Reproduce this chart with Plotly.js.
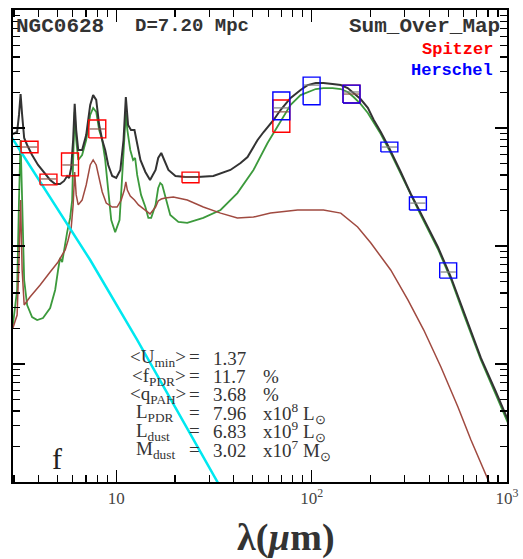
<!DOCTYPE html>
<html><head><meta charset="utf-8">
<script src="https://cdn.plot.ly/plotly-3.0.1.min.js"></script>
<style>html,body{margin:0;padding:0;background:#fff}</style>
</head><body><div id="chart" style="width:523px;height:559px"></div>
<script>
// ---- Total model (black) ----
const totalWave = [2.96,3.11,3.18,3.24,3.30,3.38,3.50,3.71,3.98,4.27,
  4.59,4.87,5.16,5.41,5.61,5.74,5.88,6.02,6.13,6.24,
  6.39,6.69,7.02,7.36,7.62,7.90,8.18,8.48,8.78,9.10,
  9.54,10.0,10.5,10.9,11.2,11.5,11.9,12.4,12.8,13.3,
  14.1,14.9,15.9,16.4,17.0,17.6,18.5,20.1,22.6,26.0,
  31.4,38.4,43.3,47.0,52.9,56.8,63.9,69.3,78.1,87.8,
  95.4,105,115,128,141,153,164,178,194,208,
  226,248,286,322,362,443,516,602,736,878,1012];
const totalFlux = [8.90e8,9.25e8,1.29e9,1.94e9,1.29e9,8.23e8,7.18e8,5.90e8,4.86e8,4.16e8,
  3.63e8,3.35e8,3.35e8,3.56e8,3.92e8,3.77e8,4.58e8,7.91e8,1.60e9,9.62e8,
  6.51e8,6.51e8,8.72e8,1.57e9,1.90e9,1.73e9,1.06e9,7.91e8,6.51e8,4.86e8,
  3.92e8,3.77e8,4.41e8,7.91e8,1.83e9,1.06e9,9.62e8,9.62e8,7.18e8,5.36e8,
  4.24e8,3.63e8,4.41e8,5.57e8,6.14e8,5.36e8,4.41e8,3.92e8,3.84e8,3.84e8,
  3.92e8,4.41e8,5.05e8,5.68e8,7.91e8,9.25e8,1.17e9,1.42e9,1.80e9,2.10e9,
  2.31e9,2.41e9,2.41e9,2.36e9,2.31e9,2.18e9,1.98e9,1.76e9,1.48e9,1.17e9,
  9.25e8,6.90e8,4.24e8,2.76e8,1.90e8,9.81e7,5.46e7,2.71e7,1.12e7,5.79e6,3.35e6];

// ---- Diffuse dust (green) ----
const diffuseWave = [2.96,3.11,3.18,3.24,3.30,3.38,3.50,3.71,3.94,4.22,
  4.59,4.87,5.04,5.16,5.29,5.41,5.61,5.81,5.95,6.02,
  6.13,6.24,6.39,6.69,7.02,7.36,7.62,7.90,8.18,8.48,
  8.78,9.10,9.43,9.88,10.4,10.7,11.0,11.2,11.4,11.8,
  12.2,12.5,12.8,13.4,14.1,14.6,15.1,15.9,16.4,16.8,
  17.2,17.8,18.9,20.8,23.1,27.9,34.2,41.7,50.4,59.5,
  66.9,78.1,87.8,95.4,105,115,128,141,153,164,
  178,194,208,226,248,286,322,362,443,516,602,736,878,1012];
const diffuseFlux = [2.14e7,4.24e7,2.45e8,7.91e8,2.45e8,5.15e7,3.16e7,2.50e7,2.36e7,2.45e7,
  2.98e7,4.24e7,6.26e7,7.91e7,7.32e7,9.25e7,1.31e8,1.73e8,2.45e8,5.36e8,
  1.37e9,7.91e8,5.36e8,5.90e8,7.91e8,1.29e9,1.48e9,1.37e9,9.62e8,7.91e8,
  5.36e8,2.98e8,1.66e8,1.31e8,1.66e8,3.63e8,7.91e8,1.34e9,9.62e8,6.51e8,
  5.36e8,5.57e8,4.00e8,2.71e8,2.14e8,1.73e8,1.73e8,2.23e8,3.10e8,3.42e8,
  3.29e8,2.60e8,1.83e8,1.60e8,1.57e8,1.73e8,2.02e8,2.81e8,4.41e8,7.46e8,
  1.02e9,1.57e9,1.90e9,2.02e9,2.14e9,2.18e9,2.18e9,2.14e9,2.02e9,1.83e9,
  1.60e9,1.34e9,1.12e9,8.90e8,6.64e8,4.08e8,2.65e8,1.83e8,9.43e7,5.25e7,2.60e7,1.08e7,5.46e6,3.16e6];

// ---- PDR dust (brown) ----
const pdrWave = [2.96,3.11,3.18,3.24,3.30,3.38,3.62,4.08,4.59,5.04,
  5.29,5.48,5.67,5.88,6.02,6.13,6.24,6.39,6.69,7.02,
  7.36,7.62,7.90,8.18,8.48,8.89,9.54,10.1,10.6,11.0,
  11.2,11.4,11.8,12.4,13.0,13.8,14.9,15.9,16.4,17.0,
  17.8,19.6,23.1,27.9,34.2,41.7,50.4,61.6,84.8,115,
  141,172,201,254,311,375,459,561,654,809,1048];
const pdrFlux = [2.02e7,2.60e7,7.61e7,2.45e8,6.26e7,3.16e7,3.70e7,4.67e7,6.02e7,7.32e7,
  8.39e7,9.25e7,1.12e8,1.42e8,2.23e8,4.24e8,2.71e8,2.23e8,2.45e8,3.29e8,
  4.86e8,5.36e8,4.86e8,3.63e8,2.87e8,2.31e8,2.14e8,2.14e8,2.45e8,2.98e8,
  3.49e8,2.98e8,2.65e8,2.45e8,2.23e8,2.06e8,1.87e8,2.14e8,2.41e8,2.50e8,
  2.55e8,2.60e8,2.45e8,2.14e8,1.90e8,1.73e8,1.76e8,1.90e8,2.02e8,2.02e8,
  1.90e8,1.45e8,1.06e8,6.26e7,3.49e7,1.94e7,9.43e6,4.32e6,2.27e6,1.00e6,3.23e5];

// ---- Stars (cyan) ----
const starWave = [2.93,4.59,7.36,12.8,33.0,43.3];
const starFlux = [8.23e8,2.55e8,7.61e7,1.60e7,1.0e6,4.5e5];

// ---- Photometry ----
const spitzerWave  = [3.6,4.5,5.8,8.0,24,70,160];
const spitzerFlux  = [6.90e8,3.66e8,4.91e8,9.81e8,3.81e8,1.26e9,1.94e9];
const spitzerErr   = [0.12,0.11,0.25,0.19,0.11,0.37,0.19];
const spitzerModel = [6.90e8,3.70e8,4.86e8,9.81e8,3.84e8,1.37e9,1.94e9];

const herschelWave  = [70,100,160,250,350,500];
const herschelFlux  = [1.54e9,2.06e9,1.94e9,6.90e8,2.29e8,6.20e7];
const herschelErr   = [0.31,0.31,0.19,0.10,0.135,0.16];
const herschelModel = [1.48e9,2.31e9,2.02e9,6.90e8,2.31e8,6.02e7];

// ---- Labels ----
const xTickVals = [10,100,1000];
const xTickText = ['10','10<sup>2</sup>','10<sup>3</sup>'];
const statLabels = ['&lt;U<sub>min</sub>&gt;','&lt;f<sub>PDR</sub>&gt;','&lt;q<sub>PAH</sub>&gt;','L<sub>PDR</sub>','L<sub>dust</sub>','M<sub>dust</sub>'];
const statValues = ['1.37','11.7','3.68','7.96','6.83','3.02'];
const statUnits  = ['','%','%','x10<sup>8</sup> L<sub>⊙</sub>','x10<sup>9</sup> L<sub>⊙</sub>','x10<sup>7</sup> M<sub>⊙</sub>'];

// box outlines (band width in log space fixed, height = error)
const BOXW = 1.105;
function boxPath(wave, flux, err){
  const xs=[], ys=[];
  for(let i=0;i<wave.length;i++){
    const x0=wave[i]/BOXW, x1=wave[i]*BOXW, y0=flux[i]/(1+err[i]), y1=flux[i]*(1+err[i]);
    xs.push(x0,x1,x1,x0,x0,null); ys.push(y0,y0,y1,y1,y0,null);
  }
  return {x:xs,y:ys};
}
const sBox = boxPath(spitzerWave, spitzerFlux, spitzerErr);
const hBox = boxPath(herschelWave, herschelFlux, herschelErr);

const traces = [
  {x:diffuseWave, y:diffuseFlux, mode:'lines', line:{color:'#3c9a3c', width:1.8}, hoverinfo:'skip'},
  {x:pdrWave, y:pdrFlux, mode:'lines', line:{color:'#a04a40', width:1.5}, hoverinfo:'skip'},
  {x:totalWave, y:totalFlux, mode:'lines', line:{color:'#333333', width:2}, hoverinfo:'skip'},
  {x:starWave, y:starFlux, mode:'lines', line:{color:'#00e8f0', width:2.5}, hoverinfo:'skip'},
  {x:sBox.x, y:sBox.y, mode:'lines', line:{color:'#ff0000', width:1.4}, connectgaps:false, hoverinfo:'skip'},
  {x:spitzerWave, y:spitzerModel, mode:'markers', marker:{symbol:'line-ew-open', size:11, line:{color:'#ff0000', width:1.2}}, hoverinfo:'skip'},
  {x:hBox.x, y:hBox.y, mode:'lines', line:{color:'#0000ff', width:1.4}, connectgaps:false, hoverinfo:'skip'},
  {x:herschelWave, y:herschelModel, mode:'markers', marker:{symbol:'line-ew-open', size:11, line:{color:'#0000ff', width:1.2}}, hoverinfo:'skip'}
];

// pixel -> paper helpers for annotations
const L=13, R=507, T=10, B=482;
const px = v => (v-L)/(R-L);
const py = v => (B-v)/(B-T);

const mono = 'Liberation Mono, Courier New, monospace';
const serif = 'Liberation Serif, Times New Roman, serif';
const ann = [];
function A(text, x, y, xa, font){ ann.push({text, x:px(x), y:py(y), xref:'paper', yref:'paper', xanchor:xa, yanchor:'middle', showarrow:false, font}); }
A('<b>NGC0628</b>', 14, 26, 'left', {family:mono, size:21, color:'#333'});
A('<b>D=7.20 Mpc</b>', 133, 26, 'left', {family:mono, size:19, color:'#333'});
A('<b>Sum_Over_Map</b>', 502, 26, 'right', {family:mono, size:21, color:'#333'});
A('<b>Spitzer</b>', 495, 49, 'right', {family:mono, size:17, color:'#ff0000'});
A('<b>Herschel</b>', 495, 70, 'right', {family:mono, size:17, color:'#0000ff'});
A('f', 57, 458, 'center', {family:serif, size:30, color:'#222'});
A('<b>λ(<i>µ</i>m)</b>', 286, 537, 'center', {family:serif, size:38, color:'#333'});
const rowY = [358,376.5,395,413,431.5,450];
const sf = {family:serif, size:19, color:'#333'};
for(let i=0;i<6;i++){
  if(i<3) A(statLabels[i], 188, rowY[i], 'right', sf); else A(statLabels[i], 134, rowY[i], 'left', sf);
  A('=', 194, rowY[i]-1, 'center', sf);
  A(statValues[i], 211, rowY[i], 'left', sf);
  if(statUnits[i]) A(statUnits[i], 261, rowY[i], 'left', sf);
}

const xMinor=[], yMinor=[];
[1,10,100].forEach(d=>{for(let k=2;k<=9;k++) xMinor.push(k*d);});
[1e6,1e7,1e8,1e9].forEach(d=>{for(let k=2;k<=9;k++) yMinor.push(k*d);});

const layout = {
  width:523, height:559,
  margin:{l:L, r:523-R, t:T, b:559-B},
  paper_bgcolor:'#fff', plot_bgcolor:'#fff',
  showlegend:false,
  xaxis:{type:'log', range:[Math.log10(2.963), 3], showline:true, linecolor:'#000', linewidth:1.8,
    mirror:'ticks', ticks:'inside', ticklen:12, tickwidth:1.3, tickcolor:'#000',
    tickmode:'array', tickvals:xTickVals, ticktext:xTickText,
    tickfont:{family:serif, size:17, color:'#444'}, showgrid:false, zeroline:false,
    minor:{ticks:'inside', ticklen:7, tickwidth:1.2, tickcolor:'#000', tickmode:'array', tickvals:xMinor, showgrid:false}},
  yaxis:{type:'log', range:[6,10], showline:true, linecolor:'#000', linewidth:1.8,
    mirror:'ticks', ticks:'inside', ticklen:12, tickwidth:1.3, tickcolor:'#000',
    tickmode:'array', tickvals:[1e6,1e7,1e8,1e9,1e10], showticklabels:false, showgrid:false, zeroline:false,
    minor:{ticks:'inside', ticklen:7, tickwidth:1.2, tickcolor:'#000', tickmode:'array', tickvals:yMinor, showgrid:false}},
  annotations:ann
};
Plotly.newPlot('chart', traces, layout, {staticPlot:true, displayModeBar:false});
</script></body></html>
